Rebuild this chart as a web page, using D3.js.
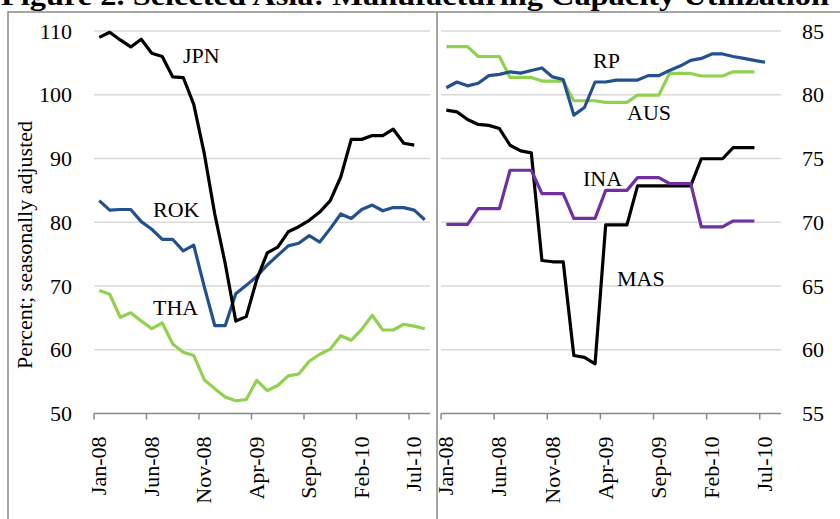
<!DOCTYPE html>
<html>
<head>
<meta charset="utf-8">
<script src="https://cdnjs.cloudflare.com/ajax/libs/d3/7.8.5/d3.min.js"></script>
<style>
  body { margin: 0; background: #fff; }
  svg text { font-family: "Liberation Serif", "Times New Roman", serif; fill: #000; }
</style>
</head>
<body>
<svg id="chart" width="840" height="519"></svg>
<script>
var months = ["Jan-08","Feb-08","Mar-08","Apr-08","May-08","Jun-08","Jul-08","Aug-08","Sep-08","Oct-08","Nov-08","Dec-08",
  "Jan-09","Feb-09","Mar-09","Apr-09","May-09","Jun-09","Jul-09","Aug-09","Sep-09","Oct-09","Nov-09","Dec-09",
  "Jan-10","Feb-10","Mar-10","Apr-10","May-10","Jun-10","Jul-10","Aug-10"];

// left panel
var leftTicks = [50, 60, 70, 80, 90, 100, 110];
var jpn = [109.0,109.8,108.6,107.5,108.7,106.5,106.0,102.8,102.7,98.5,90.8,81.3,
  73.5,64.5,65.2,71.0,75.2,76.1,78.5,79.3,80.3,81.6,83.4,87.1,
  93.0,93.0,93.6,93.6,94.6,92.4,92.1];
var rok = [83.4,81.9,82.0,82.0,80.1,78.9,77.3,77.3,75.5,76.4,69.9,63.8,
  63.8,68.8,70.1,71.5,73.3,74.8,76.3,76.7,77.9,76.9,79.0,81.3,
  80.6,82.0,82.7,81.8,82.3,82.3,81.9,80.4];
var tha = [69.3,68.7,65.1,65.8,64.5,63.3,64.2,60.9,59.6,59.1,55.3,53.9,
  52.6,52.0,52.2,55.2,53.6,54.4,55.9,56.2,58.2,59.3,60.1,62.2,
  61.5,63.2,65.4,63.1,63.1,64.0,63.7,63.3];

// right panel
var rightTicks = [55, 60, 65, 70, 75, 80, 85];
var rp = [80.55,81.0,80.7,80.9,81.5,81.6,81.8,81.7,81.9,82.1,81.4,81.2,
  78.4,79.0,81.0,81.0,81.15,81.15,81.15,81.5,81.5,81.9,82.25,82.7,
  82.85,83.2,83.2,83.0,82.85,82.7,82.55];
var aus = [83.77,83.77,83.77,83.0,83.0,83.0,81.36,81.36,81.36,81.07,81.07,81.07,
  79.53,79.53,79.53,79.4,79.4,79.4,79.97,79.97,79.97,81.67,81.67,81.67,
  81.47,81.47,81.47,81.8,81.8,81.8];
var mas = [78.8,78.66,78.06,77.67,77.6,77.35,76.04,75.6,75.44,67.0,66.9,66.9,
  59.55,59.4,58.9,69.8,69.8,69.8,72.85,72.85,72.85,72.85,72.85,72.85,
  74.98,74.98,74.98,75.85,75.85,75.85];
var ina = [69.84,69.84,69.84,71.07,71.07,71.07,74.08,74.08,74.08,72.25,72.25,72.25,
  70.3,70.3,70.3,72.5,72.5,72.5,73.5,73.5,73.5,73.04,73.04,73.04,
  69.63,69.63,69.63,70.1,70.1,70.1];

var labelEvery = 5;

var panels = [
  { x0: 94, x1: 430, domain: [50, 110], ticks: leftTicks, side: "left",
    series: [
      { name: "THA", values: tha, color: "#92D050", lx: 153, ly: 315 },
      { name: "ROK", values: rok, color: "#24508E", lx: 153, ly: 217 },
      { name: "JPN", values: jpn, color: "#000000", lx: 183, ly: 63 }
    ] },
  { x0: 441, x1: 781, domain: [55, 85], ticks: rightTicks, side: "right",
    series: [
      { name: "AUS", values: aus, color: "#92D050", lx: 627, ly: 120 },
      { name: "RP", values: rp, color: "#24508E", lx: 593, ly: 68 },
      { name: "MAS", values: mas, color: "#000000", lx: 617, ly: 286 },
      { name: "INA", values: ina, color: "#7030A0", lx: 583, ly: 186 }
    ] }
];

var svg = d3.select("#chart");
var yTop = 31, yBottom = 413.5;

// title (clipped at top like the original)
svg.append("text")
  .attr("x", 1).attr("y", 5)
  .attr("font-size", 27).attr("font-weight", "bold")
  .attr("textLength", 828).attr("lengthAdjust", "spacingAndGlyphs")
  .text("Figure 2. Selected Asia: Manufacturing Capacity Utilization");

// chart borders
svg.append("path")
  .attr("d", "M8,530V12H840")
  .attr("fill", "none").attr("stroke", "#898989").attr("stroke-width", 1.5);
svg.append("line")
  .attr("x1", 437).attr("x2", 437).attr("y1", 12).attr("y2", 530)
  .attr("stroke", "#898989").attr("stroke-width", 1.5);

panels.forEach(function (p) {
  var x = d3.scaleBand().domain(months).range([p.x0, p.x1]).padding(0);
  var y = d3.scaleLinear().domain(p.domain).range([yBottom, yTop]);
  var g = svg.append("g");

  // gridlines
  g.selectAll(".grid").data(p.ticks.slice(1)).enter().append("line")
    .attr("x1", p.x0).attr("x2", p.x1)
    .attr("y1", function (d) { return y(d); }).attr("y2", function (d) { return y(d); })
    .attr("stroke", "#D9D9D9").attr("stroke-width", 1.5);

  // y tick labels
  g.selectAll(".yl").data(p.ticks).enter().append("text")
    .attr("x", p.side == "left" ? 72 : 802)
    .attr("y", function (d) { return y(d); })
    .attr("dy", "0.35em")
    .attr("text-anchor", p.side == "left" ? "end" : "start")
    .attr("font-size", 22)
    .text(function (d) { return d; });

  // category axis
  g.append("line")
    .attr("x1", p.x0).attr("x2", p.x1).attr("y1", yBottom).attr("y2", yBottom)
    .attr("stroke", "#898989").attr("stroke-width", 1.5);
  var tickMonths = months.filter(function (m, i) { return i % labelEvery == 0; });
  g.selectAll(".tk").data(tickMonths).enter().append("line")
    .attr("x1", function (d) { return x(d); }).attr("x2", function (d) { return x(d); })
    .attr("y1", yBottom).attr("y2", yBottom + 6)
    .attr("stroke", "#898989").attr("stroke-width", 1.5);
  g.selectAll(".xl").data(tickMonths).enter().append("text")
    .attr("transform", function (d) {
      return "translate(" + (x(d) + x.bandwidth() / 2 + 7) + "," + (yBottom + 23) + ") rotate(-90)";
    })
    .attr("text-anchor", "end")
    .attr("font-size", 22)
    .text(function (d) { return d; });

  // series lines
  var line = d3.line()
    .x(function (d, i) { return x(months[i]) + x.bandwidth() / 2; })
    .y(function (d) { return y(d); });
  p.series.forEach(function (s) {
    g.append("path").datum(s.values)
      .attr("d", line)
      .attr("fill", "none").attr("stroke", s.color)
      .attr("stroke-width", 3.2).attr("stroke-linejoin", "round");
    g.append("text")
      .attr("x", s.lx).attr("y", s.ly)
      .attr("font-size", 22)
      .text(s.name);
  });
});

// y axis title
svg.append("text")
  .attr("transform", "translate(31.5,245) rotate(-90)")
  .attr("text-anchor", "middle")
  .attr("font-size", 22)
  .text("Percent; seasonally adjusted");
</script>
</body>
</html>
